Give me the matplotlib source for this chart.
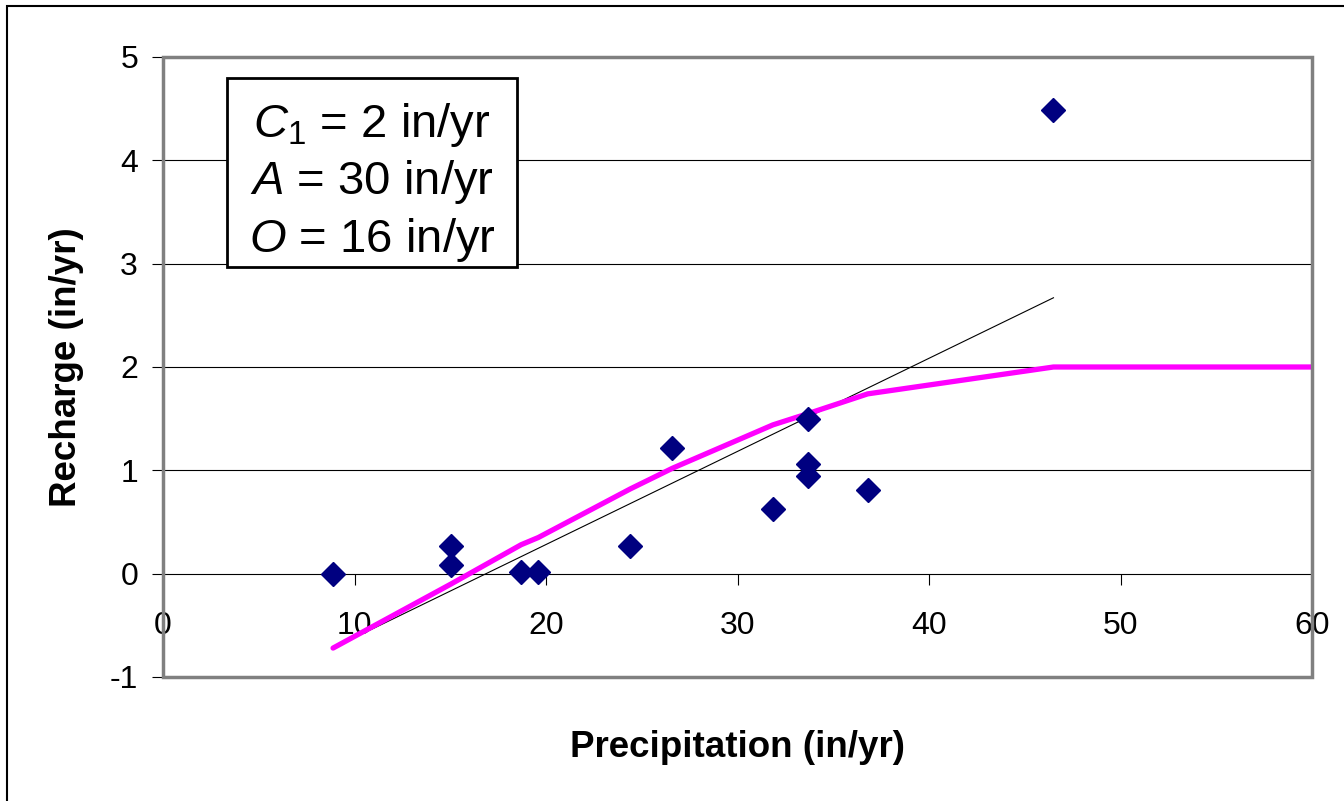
import numpy as np
import matplotlib
matplotlib.use("Agg")
import matplotlib.pyplot as plt
from matplotlib.patches import Rectangle

plt.rcParams['font.family'] = ['Liberation Sans', 'DejaVu Sans']
plt.rcParams['mathtext.fontset'] = 'custom'
plt.rcParams['mathtext.rm'] = 'Liberation Sans'
plt.rcParams['mathtext.it'] = 'Liberation Sans:italic'

# observed recharge vs precipitation
precip = [8.88, 15.04, 15.04, 18.7, 19.6, 24.4, 26.6, 31.85, 33.7, 33.7, 33.7, 36.8, 46.5]
recharge = [0.0, 0.27, 0.08, 0.02, 0.02, 0.27, 1.22, 0.63, 1.50, 1.06, 0.95, 0.81, 4.49]

# model curve (magenta)
model_x = [8.88, 15.04, 18.7, 19.6, 24.4, 26.6, 31.85, 33.7, 36.8, 46.5, 60]
model_y = [-0.72, -0.10, 0.28, 0.35, 0.82, 1.02, 1.44, 1.55, 1.74, 2.0, 2.0]

# linear trendline (thin black)
trend_x = [8.88, 46.5]
trend_y = [-0.72, 2.67]

xticks = [0, 10, 20, 30, 40, 50, 60]
yticks = [-1, 0, 1, 2, 3, 4, 5]

fig = plt.figure(figsize=(13.44, 8.01), dpi=100)
ax = fig.add_axes([163/1344, 1 - 677/801, (1312-163)/1344, (677-57)/801])

# gridlines
for yv in yticks[2:-1]:
    ax.axhline(yv, color='black', lw=0.8, zorder=1)

ax.plot(trend_x, trend_y, color='black', lw=0.8, zorder=3)
ax.plot(model_x, model_y, color='#ff00ff', lw=3.8, zorder=4, solid_capstyle='round')
ax.plot(precip, recharge, linestyle='none', marker='D', markersize=12,
        color='#000080', zorder=5)

ax.set_xlim(0, 60)
ax.set_ylim(-1, 5)
ax.set_xticks(xticks)
ax.set_yticks(yticks)
ax.set_yticklabels([str(v) for v in yticks])

# x axis crosses at y = 0
ax.spines['bottom'].set_position(('data', 0))
ax.spines['bottom'].set_color('black')
ax.spines['bottom'].set_linewidth(0.8)
for s in ['top', 'right', 'left']:
    ax.spines[s].set_color('#808080')
    ax.spines[s].set_linewidth(2)
ax.add_patch(Rectangle((0, 0), 1, 1, transform=ax.transAxes, fill=False,
                       edgecolor='#808080', lw=2.5, zorder=6, clip_on=False))

ax.tick_params(axis='x', direction='out', length=8, width=0.8, pad=19, labelsize=23)
ax.tick_params(axis='y', direction='out', length=8, width=0.8, pad=10, labelsize=23)

ax.set_xlabel('Precipitation (in/yr)', fontsize=26.5, fontweight='bold')
ax.xaxis.set_label_coords(0.5, -0.085)
ax.set_ylabel('Recharge (in/yr)', fontsize=26.5, fontweight='bold')
ax.yaxis.set_label_coords(-0.069, 0.5)

# parameter box
fig.patches.append(Rectangle((227/1344, 1 - 267/801), 290/1344, 189/801,
                             transform=fig.transFigure, facecolor='white',
                             edgecolor='black', lw=2, zorder=7))
lines = [r'$C_1$ = 2 in/yr', r'$A$ = 30 in/yr', r'$O$ = 16 in/yr']
baselines = [137, 194, 252]
for txt, yb in zip(lines, baselines):
    fig.text(372/1344, 1 - yb/801, txt, ha='center', va='baseline',
             fontsize=34, zorder=8)

# outer chart border
fig.patches.append(Rectangle((7/1344, -0.1), 1.2, 1.1 - 6/801,
                             transform=fig.transFigure, fill=False,
                             edgecolor='black', lw=1.5))

fig.savefig('out.png', dpi=100)
